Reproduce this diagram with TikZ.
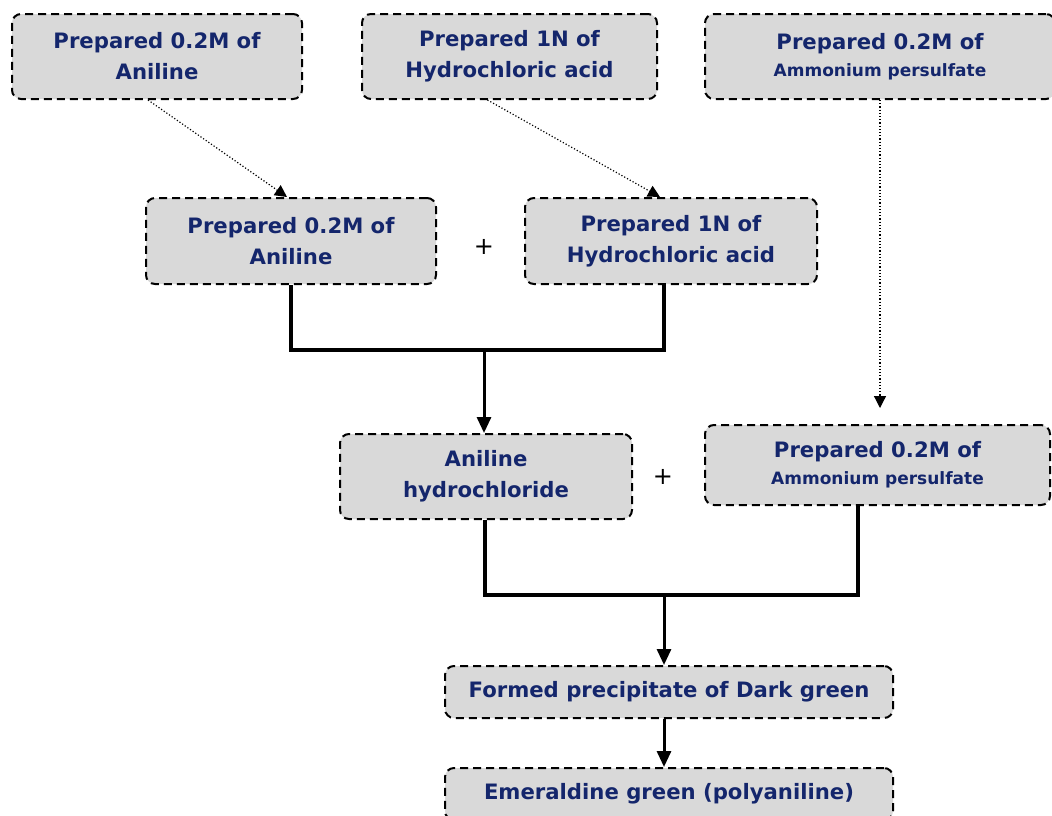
\documentclass[tikz,border=0pt]{standalone}
\usepackage{fontspec}
\setmainfont{DejaVu Sans}
\usetikzlibrary{arrows.meta}
\definecolor{boxfill}{RGB}{217,217,217}
\definecolor{boxtext}{RGB}{20,38,108}
\newcommand{\apsfont}{\fontsize{17}{21}\selectfont}
\tikzset{
  stepbox/.style={draw, dash pattern=on 8pt off 5pt, line width=2pt,
    rounded corners=9pt, fill=boxfill, text=boxtext, align=center,
    font=\fontsize{21.2}{31}\selectfont\bfseries, inner sep=0pt},
  plussign/.style={font=\fontsize{24}{24}\selectfont},
  mixline/.style={line width=3.5pt},
  feedline/.style={dotted, line width=1.2pt, -{Triangle[length=12pt,width=12pt]}},
  flowarrow/.style={line width=3pt, -{Triangle[length=16pt,width=14pt]}}
}
\begin{document}
\begin{tikzpicture}[x=1pt,y=-1pt]
  \useasboundingbox (0,0) rectangle (1052,815);
  \clip (0,0) rectangle (1052,815);
  % first row
  \node[stepbox, minimum width=290pt, minimum height=85pt] (anil1) at (157,56.5) {Prepared 0.2M of\\Aniline};
  \node[stepbox, minimum width=295pt, minimum height=85pt] (hcl1) at (509.5,56.5) {Prepared 1N of\\Hydrochloric acid};
  \node[stepbox, minimum width=350pt, minimum height=85pt] (aps1) at (880,56.5) {Prepared 0.2M of\\[-4pt]{\apsfont Ammonium persulfate}};
  % second row
  \node[stepbox, minimum width=290pt, minimum height=86pt] (anil2) at (291,241) {Prepared 0.2M of\\Aniline};
  \node[plussign] (plusA) at (484,247) {+};
  \node[stepbox, minimum width=292pt, minimum height=86pt] (hcl2) at (671,241) {Prepared 1N of\\Hydrochloric acid};
  \coordinate (apsend) at (880,408);
  % third row
  \node[stepbox, minimum width=292pt, minimum height=85pt] (ah) at (486,476.5) {Aniline\\hydrochloride};
  \node[plussign] (plusB) at (663,477) {+};
  \node[stepbox, minimum width=345pt, minimum height=80pt] (aps2) at (877.5,465) {Prepared 0.2M of\\[-4pt]{\apsfont Ammonium persulfate}};
  % products
  \node[stepbox, minimum width=448pt, minimum height=52pt] (form) at (669,692) {Formed precipitate of Dark green};
  \node[stepbox, minimum width=448pt, minimum height=52pt] (emer) at (669,794) {Emeraldine green (polyaniline)};
  \coordinate (mixA) at (484,350);
  \coordinate (mixB) at (664,595);
  \draw[feedline] ([xshift=-9pt]anil1.south) -- ([xshift=-4pt]anil2.north);
  \draw[feedline] ([xshift=-22pt]hcl1.south) -- ([xshift=-11pt]hcl2.north);
  \draw[feedline] (aps1.south) -- (apsend);
  \draw[mixline] (anil2.south) |- (mixA) -| ([xshift=-7pt]hcl2.south);
  \draw[flowarrow] (mixA) -- (mixA |- ah.north);
  \draw[mixline] ([xshift=-1pt]ah.south) |- (mixB) -| ([xshift=-19.5pt]aps2.south);
  \draw[flowarrow] (mixB) -- (mixB |- form.north);
  \draw[flowarrow] (mixB |- form.south) -- (mixB |- emer.north);
\end{tikzpicture}
\end{document}
